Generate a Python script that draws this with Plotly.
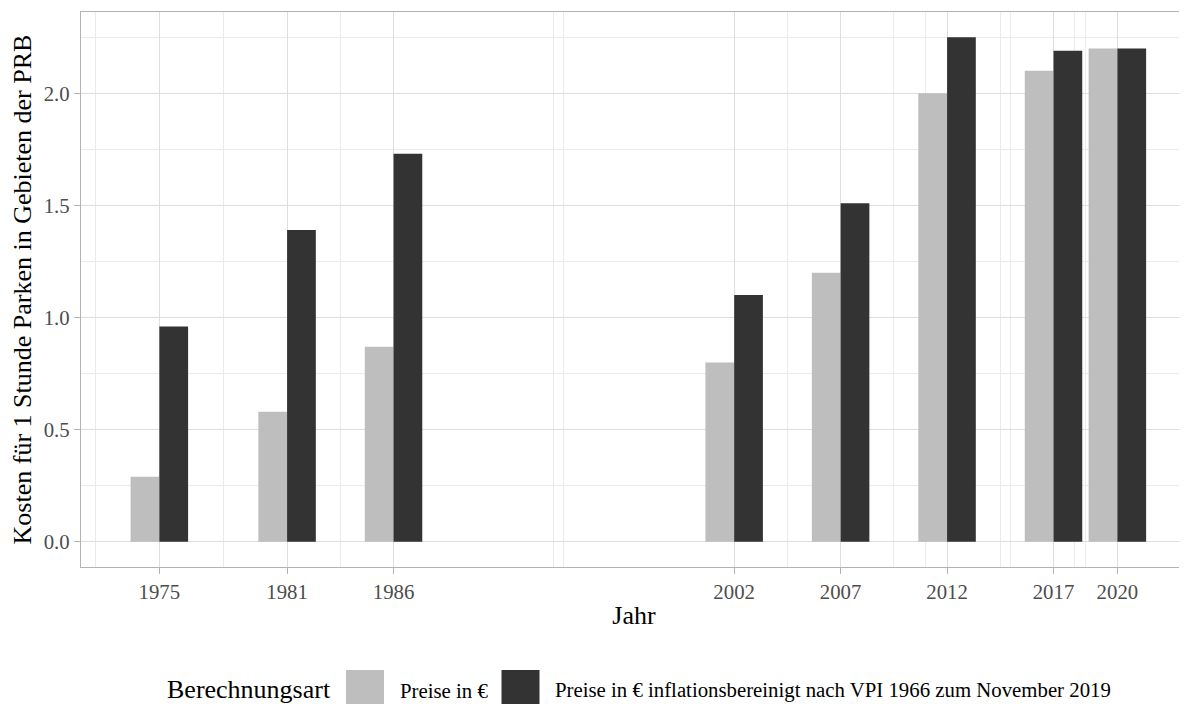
import plotly.graph_objects as go

# ---- data ----
years = [1975, 1981, 1986, 2002, 2007, 2012, 2017, 2020]
year_labels = ["1975", "1981", "1986", "2002", "2007", "2012", "2017", "2020"]
preise = [0.29, 0.58, 0.87, 0.80, 1.20, 2.00, 2.10, 2.20]
preise_inflation = [0.96, 1.39, 1.73, 1.10, 1.51, 2.25, 2.19, 2.20]
series_names = ["Preise in €", "Preise in € inflationsbereinigt nach VPI 1966 zum November 2019"]
legend_title = "Berechnungsart"
y_ticks = [0.0, 0.5, 1.0, 1.5, 2.0]
y_tick_labels = ["0.0", "0.5", "1.0", "1.5", "2.0"]
x_minor = [1972, 1978, 1983.5, 1993.5, 1994, 2004.5, 2009.5, 2011, 2014.5, 2015, 2018, 2018.5, 2023]
y_minor = [0.25, 0.75, 1.25, 1.75, 2.25]

# ---- style ----
OFF = 8  # default body margin of the html page
W, H = 1187 - OFF, 704 - OFF
L, R, T, B = 81 - OFF, 0, 12 - OFF, 137
FONT = "Liberation Serif"
LIGHT = "#BEBEBE"
DARK = "#333333"
BAR_W = 1.35

fig = go.Figure()
fig.add_trace(go.Bar(x=years, y=preise, name=series_names[0], width=BAR_W, offset=-BAR_W,
                     marker=dict(color=LIGHT, line=dict(width=0)), showlegend=False))
fig.add_trace(go.Bar(x=years, y=preise_inflation, name=series_names[1], width=BAR_W, offset=0,
                     marker=dict(color=DARK, line=dict(width=0)), showlegend=False))

pw, ph = W - L - R, H - T - B
def px(xp):  # page pixel -> paper
    return (xp - OFF - L) / pw
def py(yp):
    return (H - B - (yp - OFF)) / ph

# manual legend (keys + labels), mimicking the large ggplot keys
key_color = [LIGHT, DARK]
key_x = [346, 501.5]
text_x = [397.5, 553]
shapes = []
annotations = []
for i in range(2):
    shapes.append(dict(type="rect", xref="paper", yref="paper",
                       x0=px(key_x[i]), x1=px(key_x[i] + 38), y0=py(670), y1=py(708),
                       fillcolor=key_color[i], line=dict(width=0), layer="above"))
    annotations.append(dict(text=series_names[i], xref="paper", yref="paper",
                            x=px(text_x[i]), y=py(690), xanchor="left", yanchor="middle",
                            showarrow=False, font=dict(family=FONT, size=20.8, color="#000000")))
annotations.append(dict(text=legend_title, xref="paper", yref="paper",
                        x=px(164.5), y=py(689), xanchor="left", yanchor="middle",
                        showarrow=False, font=dict(family=FONT, size=26, color="#000000")))

fig.update_layout(
    width=W, height=H,
    margin=dict(l=L, r=R, t=T, b=B),
    paper_bgcolor="white", plot_bgcolor="white",
    barmode="overlay",
    font=dict(family=FONT, color="#000000"),
    shapes=shapes, annotations=annotations,
    xaxis=dict(
        range=[1971.32, 2023.27], automargin=False,
        tickmode="array", tickvals=years, ticktext=year_labels,
        ticks="outside", ticklen=6, tickcolor="#B3B3B3", tickwidth=1,
        tickfont=dict(family=FONT, size=20.8, color="#4D4D4D"),
        showgrid=True, gridcolor="#DEDEDE", gridwidth=1.1,
        minor=dict(tickmode="array", tickvals=x_minor, showgrid=True,
                   gridcolor="#EBEBEB", gridwidth=0.7, ticks=""),
        showline=True, mirror=True, linecolor="#B3B3B3", linewidth=1.3,
        zeroline=False,
        title=dict(text="Jahr", font=dict(family=FONT, size=26, color="#000000"), standoff=3),
    ),
    yaxis=dict(
        range=[-0.1125, 2.3625], automargin=False,
        tickmode="array", tickvals=y_ticks, ticktext=y_tick_labels,
        ticks="outside", ticklen=6, tickcolor="#B3B3B3", tickwidth=1,
        tickfont=dict(family=FONT, size=20.8, color="#4D4D4D"),
        showgrid=True, gridcolor="#DEDEDE", gridwidth=1.1,
        minor=dict(tickmode="array", tickvals=y_minor, showgrid=True,
                   gridcolor="#EBEBEB", gridwidth=0.7, ticks=""),
        showline=True, mirror=False, linecolor="#B3B3B3", linewidth=1.3,
        zeroline=False,
        title=dict(text="Kosten für 1 Stunde Parken in Gebieten der PRB",
                   font=dict(family=FONT, size=26, color="#000000"), standoff=8),
    ),
)

fig.write_html("out.html")
